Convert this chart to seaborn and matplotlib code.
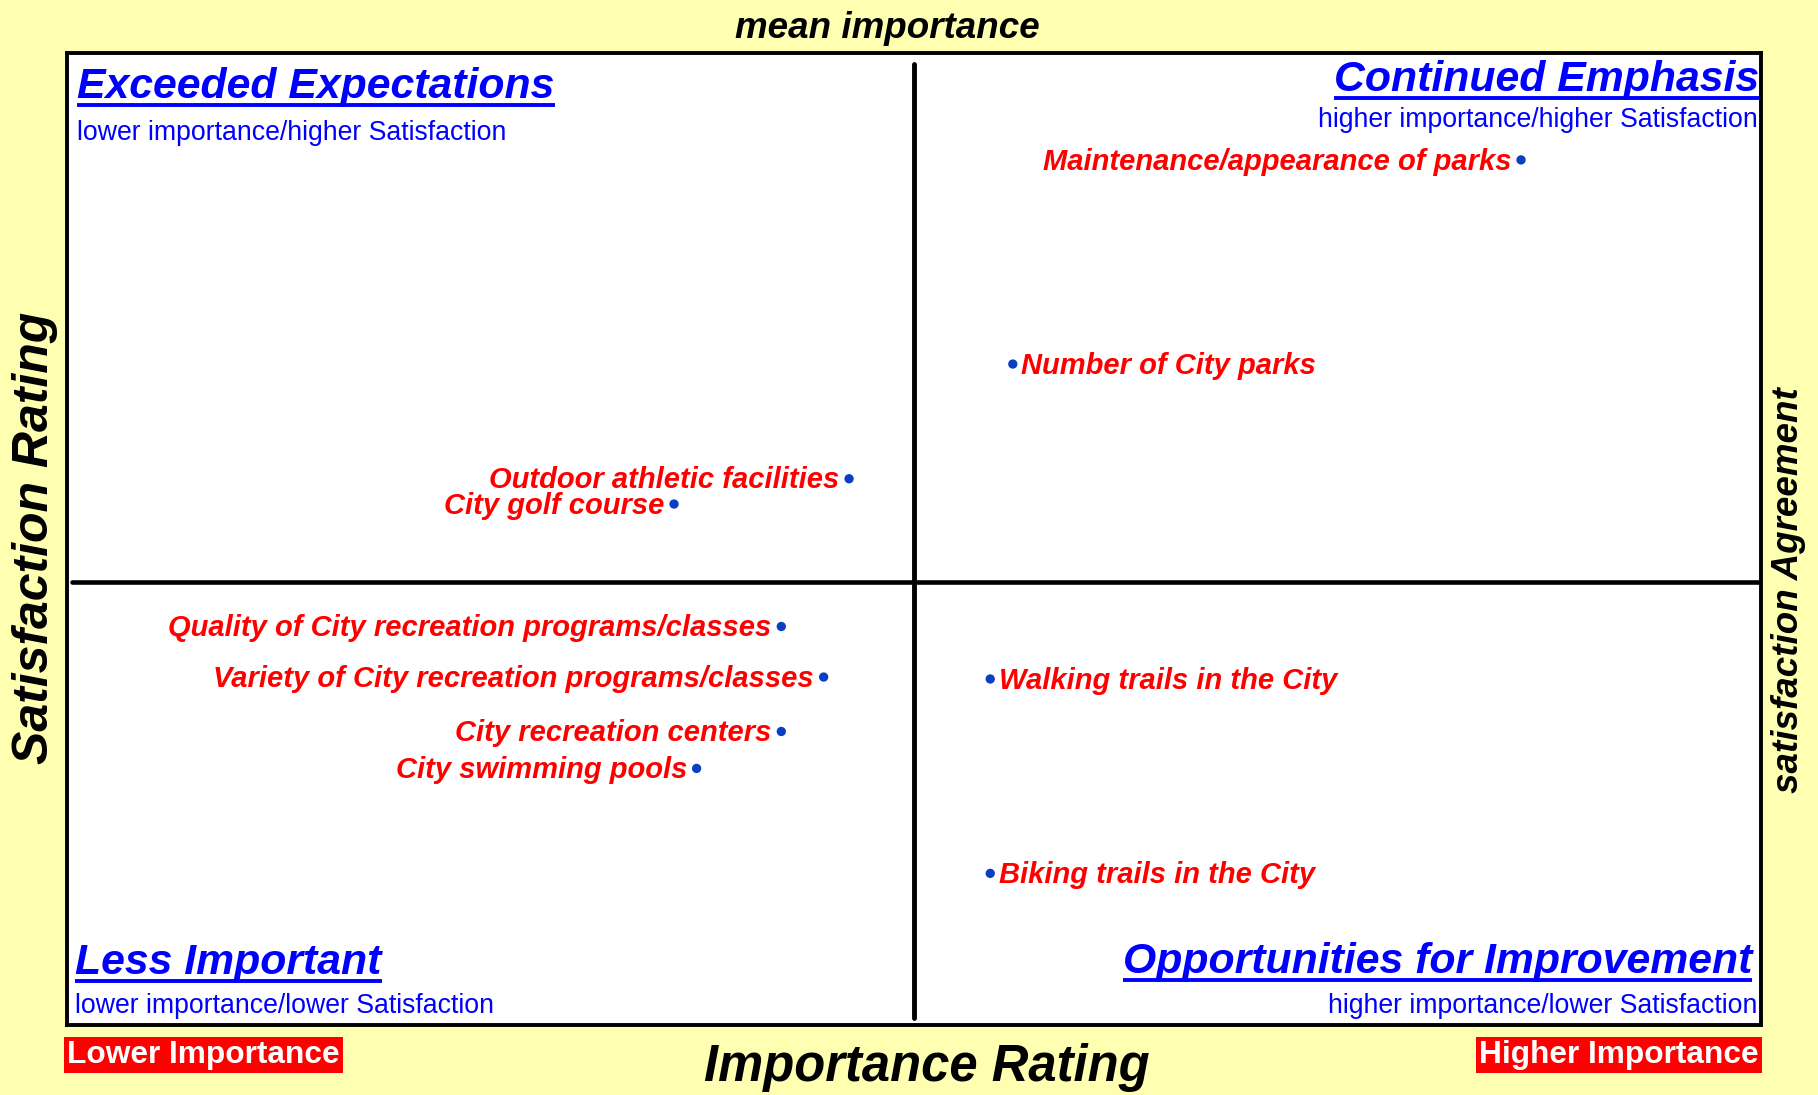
import numpy as np
import pandas as pd
import seaborn as sns
from matplotlib import pyplot as plt
from matplotlib.lines import Line2D

# items, importance (x) and satisfaction (y)
items = ["Maintenance/appearance of parks", "Number of City parks",
         "Outdoor athletic facilities", "City golf course",
         "Quality of City recreation programs/classes",
         "Variety of City recreation programs/classes",
         "City recreation centers", "City swimming pools",
         "Walking trails in the City", "Biking trails in the City"]
importance = [0.515, 0.335, 0.277, 0.215, 0.253, 0.268, 0.253, 0.223, 0.327, 0.327]
satisfaction = [0.845, 0.740, 0.681, 0.668, 0.605, 0.579, 0.551, 0.532, 0.578, 0.478]
label_side = ["left", "right", "left", "left", "left", "left", "left", "left", "right", "right"]
mean_importance = 0.300
mean_satisfaction = 0.628

df = pd.DataFrame({"name": items, "importance": importance,
                   "satisfaction": satisfaction, "side": label_side})

sns.set_style("white")
plt.rcParams['font.family'] = ['Liberation Sans', 'DejaVu Sans']
plt.rcParams['text.color'] = 'black'

bg = '#FFFFB2'
fig = plt.figure(figsize=(18.18, 10.95), dpi=100, facecolor=bg)
ax = fig.add_axes([0.03685, 0.0639, 0.9318, 0.8877])
ax.set_facecolor('white')

sns.scatterplot(data=df, x="importance", y="satisfaction", ax=ax,
                color='#0A3FC2', s=45, edgecolor='none', zorder=5)
ax.set_xlim(0, 0.6)
ax.set_ylim(0.4, 0.9)
ax.set_xticks([])
ax.set_yticks([])
ax.set_xlabel('')
ax.set_ylabel('')
for sp in ax.spines.values():
    sp.set_linewidth(2.8)
    sp.set_color('black')

ax.axvline(mean_importance, ymin=0.007, ymax=0.989, color='black', lw=3.5)
ax.axhline(mean_satisfaction, xmin=0.003, xmax=1, color='black', lw=3.3)

for _, r in df.iterrows():
    left = r["side"] == "left"
    ax.annotate(r["name"], (r["importance"], r["satisfaction"]),
                xytext=(-7 if left else 6, 1), textcoords='offset points',
                ha='right' if left else 'left', va='center_baseline',
                color='red', fontsize=21, fontweight='bold', fontstyle='italic')

titles = []
quad = [("Exceeded Expectations", "lower importance/higher Satisfaction", 0.006, 0.954, 0.911, 'left'),
        ("Continued Emphasis", "higher importance/higher Satisfaction", 0.9988, 0.961, 0.924, 'right'),
        ("Less Important", "lower importance/lower Satisfaction", 0.005, 0.0525, 0.0123, 'left'),
        ("Opportunities for Improvement", "higher importance/lower Satisfaction", 0.9947, 0.0535, 0.0123, 'right')]
for t, sub, x, yt, ys, ha in quad:
    titles.append(ax.text(x, yt, t, transform=ax.transAxes, ha=ha, va='baseline',
                          color='#0000FF', fontsize=30.8, fontweight='bold', fontstyle='italic'))
    xs = 0.9978 if ha == 'right' else x
    ax.text(xs, ys, sub, transform=ax.transAxes, ha=ha, va='baseline',
            color='#0000FF', fontsize=19.2)

fig.text(0.488, 0.965, "mean importance", ha='center', va='baseline',
         fontsize=26.5, fontweight='bold', fontstyle='italic')
fig.text(0.51, 0.0128, "Importance Rating", ha='center', va='baseline',
         fontsize=36.5, fontweight='bold', fontstyle='italic')
fig.text(0.0195, 0.509, "Satisfaction Rating", rotation=90, ha='center', va='center',
         fontsize=36, fontweight='bold', fontstyle='italic')
fig.text(0.984, 0.461, "satisfaction Agreement", rotation=90, ha='center', va='center',
         fontsize=26.5, fontweight='bold', fontstyle='italic')

box = dict(boxstyle='square,pad=0.1', facecolor='red', edgecolor='none')
fig.text(67 / 1818, 1 - 1063 / 1095, "Lower Importance", ha='left', va='baseline',
         color='white', fontsize=22.8, fontweight='bold', bbox=box)
fig.text(1759 / 1818, 1 - 1063 / 1095, "Higher Importance", ha='right', va='baseline',
         color='white', fontsize=22.8, fontweight='bold', bbox=box)

# underline the quadrant titles
fig.canvas.draw()
r = fig.canvas.get_renderer()
for t in titles:
    bb = t.get_window_extent(r)
    y = bb.y0 + 2
    fig.add_artist(Line2D([bb.x0, bb.x1], [y, y], transform=None,
                          color='#0000FF', lw=2.8, solid_capstyle='butt'))

fig.savefig('out.png', dpi=100, facecolor=bg)
